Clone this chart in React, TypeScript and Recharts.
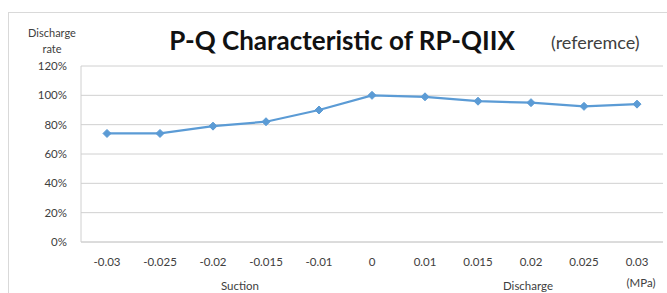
import React from 'react';
import { LineChart, Line, XAxis, YAxis, CartesianGrid } from 'recharts';

const pressures = ['-0.03', '-0.025', '-0.02', '-0.015', '-0.01', '0', '0.01', '0.015', '0.02', '0.025', '0.03'];
const dischargeRate = [0.74, 0.74, 0.79, 0.82, 0.9, 1.0, 0.99, 0.96, 0.95, 0.925, 0.94];
const yTicks = [0, 0.2, 0.4, 0.6, 0.8, 1.0, 1.2];

const data = pressures.map((p, i) => ({ p, v: dischargeRate[i] }));

const FONT = 'Lato, "Noto Sans", sans-serif';
const BLUE = '#5b9bd5';

const Diamond = (props: any) => {
  const { cx, cy, index } = props;
  if (cx == null || cy == null) return <g key={`d-${index}`} />;
  const r = 4;
  return (
    <path
      key={`d-${index}`}
      d={`M${cx},${cy - r}L${cx + r},${cy}L${cx},${cy + r}L${cx - r},${cy}Z`}
      fill={BLUE}
      stroke={BLUE}
    />
  );
};

export default function App() {
  return (
    <div style={{ position: 'absolute', left: 0, top: 0, width: 667, height: 293, overflow: 'hidden', background: '#fff' }}>
      <svg width={667} height={293} style={{ position: 'absolute', left: 0, top: 0 }}>
        <rect x={8.5} y={12.5} width={700} height={400} fill="none" stroke="#d9d9d9" />
      </svg>
      <div style={{ position: 'absolute', left: 0, top: 0 }}>
        <LineChart
          width={667}
          height={293}
          data={data}
          margin={{ top: 66, right: 4, bottom: 21, left: 0 }}
          style={{ fontFamily: FONT }}
        >
          <CartesianGrid vertical={false} stroke="#d0d0d0" />
          <XAxis
            dataKey="p"
            height={30}
            padding={{ left: 26, right: 26 }}
            tickLine={false}
            tickSize={0}
            tickMargin={16}
            axisLine={{ stroke: '#d0d0d0' }}
            tick={{ fontSize: 11.5, fill: '#404040', fontFamily: FONT }}
            interval={0}
          />
          <YAxis
            width={81}
            domain={[0, 1.2]}
            ticks={yTicks}
            tickFormatter={(v: number) => `${Math.round(v * 100)}%`}
            tickLine={false}
            tickSize={0}
            tickMargin={14}
            axisLine={{ stroke: '#d0d0d0' }}
            tick={{ fontSize: 11.5, fill: '#404040', fontFamily: FONT }}
          />
          <Line
            type="linear"
            dataKey="v"
            stroke={BLUE}
            strokeWidth={2.25}
            dot={Diamond}
            activeDot={false}
            isAnimationActive={false}
          />
        </LineChart>
      </div>
      <svg width={667} height={293} style={{ position: 'absolute', left: 0, top: 0, pointerEvents: 'none', fontFamily: FONT }}>
        <text x={342} y={50} textAnchor="middle" fontSize={26} fontWeight="bold" fill="#111">P-Q Characteristic of RP-QIIX</text>
        <text x={551} y={49} fontSize={18} fill="#404040">(referemce)</text>
        <text x={52} y={37} textAnchor="middle" fontSize={11} fill="#404040">Discharge</text>
        <text x={52} y={53} textAnchor="middle" fontSize={11} fill="#404040">rate</text>
        <text x={240} y={290} textAnchor="middle" fontSize={11.5} fill="#404040">Suction</text>
        <text x={528} y={290} textAnchor="middle" fontSize={11.5} fill="#404040">Discharge</text>
        <text x={641} y={287} textAnchor="middle" fontSize={11.5} fill="#404040">(MPa)</text>
      </svg>
    </div>
  );
}
